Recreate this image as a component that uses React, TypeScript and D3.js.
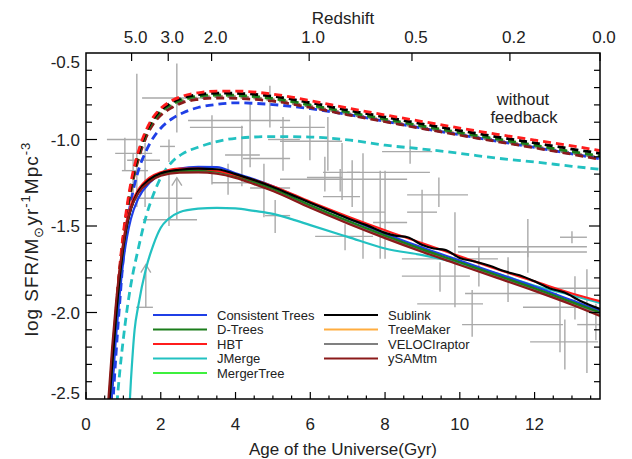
import React from "react";
import * as d3 from "d3";

const W = 632;
const H = 459;
const PL = 86, PR = 600, PT = 53, PB = 399;

// ---------- axis data ----------
const xMajorTicks = [0, 2, 4, 6, 8, 10, 12];
const xMinorTicks = [0.5, 1, 1.5, 2.5, 3, 3.5, 4.5, 5, 5.5, 6.5, 7, 7.5, 8.5, 9, 9.5, 10.5, 11, 11.5, 12.5, 13, 13.5];
const yLabelTicks = [-0.5, -1.0, -1.5, -2.0, -2.5];
const yMinorTicks = [-0.6, -0.7, -0.8, -0.9, -1.1, -1.2, -1.3, -1.4, -1.6, -1.7, -1.8, -1.9, -2.1, -2.2, -2.3, -2.4];
const yMajorTicks = [-1.0, -1.5, -2.0];
const redshiftLabels = ["5.0", "3.0", "2.0", "1.0", "0.5", "0.2", "0.0"];
const redshiftAges = [1.22, 2.2, 3.36, 5.97, 8.72, 11.34, 13.75];

// ---------- model curves ----------
const solidAges = [0.6, 0.7, 0.8, 0.9, 1.0, 1.1, 1.2, 1.4, 1.7, 2.0, 2.5, 3.0, 3.5, 4.0, 4.5, 5.0, 6.0, 7.0, 8.0, 9.0, 10.0, 11.0, 12.0, 13.0, 13.75];
const blueSolid = [-2.75, -2.45, -2.15, -1.9, -1.7, -1.56, -1.46, -1.34, -1.25, -1.2, -1.168, -1.158, -1.16, -1.195, -1.23, -1.27, -1.365, -1.455, -1.545, -1.625, -1.70, -1.775, -1.85, -1.93, -1.99];
const redSolid = [-2.55, -2.25, -1.98, -1.76, -1.59, -1.46, -1.38, -1.29, -1.22, -1.19, -1.168, -1.168, -1.18, -1.205, -1.235, -1.27, -1.36, -1.445, -1.525, -1.60, -1.675, -1.75, -1.82, -1.89, -1.935];
const greenSolid = [-2.6, -2.3, -2.03, -1.8, -1.62, -1.49, -1.40, -1.305, -1.235, -1.2, -1.182, -1.178, -1.185, -1.21, -1.245, -1.285, -1.38, -1.47, -1.555, -1.635, -1.71, -1.785, -1.86, -1.94, -2.0];
const brownSolid = [-2.5, -2.2, -1.95, -1.75, -1.6, -1.48, -1.40, -1.31, -1.245, -1.21, -1.192, -1.19, -1.198, -1.222, -1.258, -1.298, -1.395, -1.485, -1.57, -1.65, -1.725, -1.80, -1.875, -1.955, -2.02];
const limeSolid = [-2.6, -2.3, -2.03, -1.8, -1.62, -1.49, -1.40, -1.305, -1.238, -1.203, -1.185, -1.182, -1.19, -1.215, -1.25, -1.29, -1.385, -1.475, -1.56, -1.64, -1.715, -1.79, -1.865, -1.945, -2.005];
const orangeSolid = [-2.55, -2.25, -1.99, -1.77, -1.61, -1.485, -1.40, -1.308, -1.24, -1.205, -1.188, -1.186, -1.194, -1.218, -1.254, -1.294, -1.39, -1.48, -1.565, -1.645, -1.72, -1.795, -1.87, -1.95, -2.012];
const greySolid = [-2.58, -2.28, -2.0, -1.78, -1.615, -1.488, -1.40, -1.306, -1.238, -1.204, -1.186, -1.183, -1.191, -1.216, -1.252, -1.292, -1.388, -1.478, -1.562, -1.642, -1.718, -1.792, -1.868, -1.948, -2.008];
const blackAges = [0.6, 0.7, 0.8, 0.9, 1.0, 1.1, 1.2, 1.4, 1.7, 2.0, 2.5, 3.0, 3.5, 4.0, 4.5, 5.0, 5.5, 6.0, 6.5, 7.0, 7.5, 8.0, 8.3, 8.6, 9.0, 9.3, 9.6, 10.0, 10.4, 10.8, 11.2, 11.6, 12.0, 12.4, 12.8, 13.2, 13.75];
const blackSolid = [-2.6, -2.3, -2.03, -1.8, -1.62, -1.49, -1.40, -1.30, -1.23, -1.195, -1.175, -1.168, -1.172, -1.2, -1.235, -1.275, -1.32, -1.365, -1.41, -1.455, -1.495, -1.54, -1.557, -1.565, -1.61, -1.63, -1.638, -1.685, -1.705, -1.73, -1.762, -1.785, -1.82, -1.86, -1.885, -1.93, -1.98];
const cyanAges = [1.1, 1.2, 1.3, 1.4, 1.6, 1.8, 2.0, 2.2, 2.5, 3.0, 3.5, 4.0, 4.5, 5.0, 5.5, 6.0, 7.0, 8.0, 9.0, 10.0, 11.0, 12.0, 13.0, 13.75];
const cyanSolid = [-2.8, -2.4, -2.1, -1.96, -1.75, -1.61, -1.51, -1.46, -1.42, -1.40, -1.395, -1.398, -1.413, -1.43, -1.46, -1.495, -1.563, -1.63, -1.668, -1.715, -1.775, -1.845, -1.9, -1.945];

const dashAges = [0.6, 0.7, 0.8, 0.9, 1.0, 1.1, 1.2, 1.4, 1.6, 1.8, 2.0, 2.3, 2.6, 3.0, 3.5, 4.0, 5.0, 6.0, 7.0, 8.0, 9.0, 10.0, 11.0, 12.0, 13.0, 13.75];
const redDash = [-2.8, -2.35, -2.0, -1.74, -1.54, -1.38, -1.25, -1.07, -0.95, -0.87, -0.82, -0.775, -0.748, -0.73, -0.72, -0.72, -0.738, -0.775, -0.818, -0.858, -0.896, -0.934, -0.97, -1.003, -1.037, -1.064];
const blackDash = [-2.8, -2.37, -2.02, -1.76, -1.56, -1.40, -1.27, -1.085, -0.96, -0.88, -0.83, -0.785, -0.758, -0.74, -0.732, -0.733, -0.75, -0.787, -0.83, -0.87, -0.91, -0.948, -0.985, -1.02, -1.055, -1.08];
const greenDash = [-2.8, -2.38, -2.03, -1.77, -1.57, -1.41, -1.28, -1.095, -0.97, -0.89, -0.84, -0.795, -0.768, -0.75, -0.742, -0.744, -0.762, -0.8, -0.842, -0.882, -0.922, -0.96, -0.997, -1.033, -1.07, -1.095];
const brownDash = [-2.8, -2.4, -2.05, -1.79, -1.59, -1.43, -1.30, -1.115, -0.99, -0.91, -0.86, -0.815, -0.785, -0.768, -0.76, -0.762, -0.778, -0.815, -0.857, -0.897, -0.937, -0.975, -1.012, -1.048, -1.085, -1.115];
const limeDash = [-2.8, -2.38, -2.03, -1.77, -1.57, -1.41, -1.28, -1.095, -0.97, -0.89, -0.84, -0.797, -0.77, -0.752, -0.745, -0.747, -0.765, -0.803, -0.845, -0.885, -0.925, -0.963, -1.0, -1.036, -1.073, -1.098];
const orangeDash = [-2.8, -2.39, -2.04, -1.78, -1.58, -1.42, -1.29, -1.105, -0.98, -0.9, -0.85, -0.805, -0.777, -0.759, -0.751, -0.753, -0.77, -0.808, -0.85, -0.89, -0.93, -0.968, -1.005, -1.041, -1.078, -1.105];
const greyDash = [-2.8, -2.39, -2.04, -1.78, -1.58, -1.42, -1.29, -1.105, -0.98, -0.9, -0.85, -0.806, -0.778, -0.76, -0.752, -0.754, -0.771, -0.809, -0.851, -0.891, -0.931, -0.969, -1.006, -1.042, -1.079, -1.106];
const blueDash = [-3.0, -2.6, -2.25, -1.95, -1.68, -1.49, -1.36, -1.18, -1.07, -0.99, -0.935, -0.88, -0.845, -0.815, -0.797, -0.788, -0.798, -0.822, -0.855, -0.895, -0.935, -0.973, -1.01, -1.046, -1.083, -1.112];
const cyanDash = [-3.2, -2.9, -2.6, -2.35, -2.15, -1.98, -1.84, -1.63, -1.45, -1.32, -1.22, -1.13, -1.08, -1.045, -1.012, -0.993, -0.983, -0.986, -1.002, -1.033, -1.055, -1.08, -1.108, -1.13, -1.155, -1.172];

const seriesNames = ["Consistent Trees", "D-Trees", "HBT", "JMerge", "MergerTree", "Sublink", "TreeMaker", "VELOCIraptor", "ySAMtm"];
const seriesColors = ["#1f3fe6", "#1b7d1b", "#ff1c1c", "#22c1c1", "#3ef03e", "#000000", "#ffad40", "#808080", "#8b1a1a"];

// ---------- observations: [age, ageLo, ageHi, sfr, sfrLo, sfrHi] ----------
const obsPoints: number[][] = [
  [2.43, 1.50, 3.18, -0.76, -0.96, -0.56],
  [1.36, 0.56, 1.63, -1.00, -1.39, -0.62],
  [1.04, 0.78, 1.77, -1.08, -1.18, -0.99],
  [1.26, 0.96, 1.66, -1.18, -1.31, -1.08],
  [1.58, 1.10, 1.98, -1.12, -1.39, -1.02],
  [2.22, 1.98, 2.38, -1.04, -1.13, -1.00],
  [2.22, 1.10, 2.84, -1.34, -1.50, -1.18],
  [3.37, 2.78, 4.20, -0.93, -1.26, -0.86],
  [4.92, 2.73, 5.46, -0.89, -0.93, -0.69],
  [3.80, 3.37, 4.39, -1.25, -1.32, -1.14],
  [4.17, 3.72, 4.65, -1.09, -1.27, -0.92],
  [4.39, 4.20, 5.46, -1.11, -1.16, -0.79],
  [4.76, 4.39, 5.46, -1.28, -1.45, -1.14],
  [5.06, 4.79, 5.46, -1.44, -1.54, -1.35],
  [5.27, 4.87, 5.72, -1.00, -1.18, -0.87],
  [6.47, 5.19, 6.85, -1.01, -1.18, -0.87],
  [5.99, 5.19, 6.39, -0.93, -1.12, -0.86],
  [6.39, 5.91, 6.85, -1.22, -1.30, -1.10],
  [6.85, 6.34, 7.33, -1.19, -1.35, -1.02],
  [7.12, 6.34, 7.33, -1.33, -1.39, -1.12],
  [7.41, 6.98, 9.20, -1.19, -1.69, -1.08],
  [7.87, 7.06, 8.00, -1.42, -1.69, -1.18],
  [8.00, 7.68, 8.59, -1.48, -1.69, -1.18],
  [8.67, 7.92, 9.26, -1.07, -1.14, -1.00],
  [8.99, 8.59, 9.39, -1.42, -1.62, -1.29],
  [9.44, 8.59, 10.22, -1.32, -1.39, -1.22],
  [9.87, 8.45, 11.02, -1.69, -1.97, -1.42],
  [9.47, 8.45, 10.27, -1.79, -1.88, -1.71],
  [10.33, 8.86, 10.62, -1.95, -2.14, -1.87],
  [10.51, 9.95, 11.61, -1.65, -1.85, -1.62],
  [11.29, 10.14, 12.60, -1.89, -1.94, -1.68],
  [11.82, 9.95, 13.40, -1.62, -1.77, -1.46],
  [12.68, 10.06, 12.76, -2.07, -2.23, -1.91],
  [12.81, 11.88, 13.70, -2.17, -2.33, -2.04],
  [13.40, 11.69, 13.67, -1.97, -2.35, -1.75],
  [13.08, 12.44, 13.75, -1.86, -2.04, -1.79],
  [13.64, 13.14, 13.75, -2.07, -2.16, -1.95],
  [6.93, 6.13, 7.68, -1.56, -1.64, -1.49],
  [6.80, 5.19, 8.59, -1.23, -1.30, -1.17],
  [11.82, 10.0, 13.40, -1.65, -1.68, -1.62],
  [13.0, 12.68, 13.40, -1.565, -1.60, -1.53],
];
// lower limits: [age, ageLo, ageHi, sfr, arrowTip]
const lowerLimits: number[][] = [
  [2.43, 1.52, 2.97, -1.464, -1.221],
  [1.60, 1.34, 1.79, -1.97, -1.723],
];

const FONT = "'Liberation Sans', Arial, Helvetica, sans-serif";
const TXT = "#222";

export default function App() {
  const x = d3.scaleLinear().domain([0, 13.75]).range([PL, PR]);
  const y = d3.scaleLinear().domain([-2.5, -0.5]).range([PB, PT]);

  const mk = (ages: number[], vals: number[]) =>
    d3.line<number>().x((_, i) => x(ages[i])).y((v) => y(v)).curve(d3.curveMonotoneX)(vals) || "";

  const solid: [number[], number[], number][] = [
    [solidAges, limeSolid, 4],
    [solidAges, orangeSolid, 6],
    [solidAges, greySolid, 7],
    [cyanAges, cyanSolid, 3],
    [solidAges, blueSolid, 0],
    [solidAges, greenSolid, 1],
    [solidAges, redSolid, 2],
    [blackAges, blackSolid, 5],
    [solidAges, brownSolid, 8],
  ];
  const dashed: [number[], number[], number][] = [
    [dashAges, cyanDash, 3],
    [dashAges, limeDash, 4],
    [dashAges, orangeDash, 6],
    [dashAges, greyDash, 7],
    [dashAges, blueDash, 0],
    [dashAges, brownDash, 8],
    [dashAges, greenDash, 1],
    [dashAges, blackDash, 5],
    [dashAges, redDash, 2],
  ];

  const obsColor = "#a9a9a9";
  const legendRows = [0, 1, 2, 3, 4];

  return (
    <svg width={W} height={H} style={{ display: "block", position: "absolute", left: 0, top: 0, background: "#fff" }}>
      <defs>
        <clipPath id="plotclip">
          <rect x={PL} y={PT} width={PR - PL} height={PB - PT} />
        </clipPath>
      </defs>
      <rect x={0} y={0} width={W} height={H} fill="#fff" />

      {/* observations */}
      <g clipPath="url(#plotclip)" stroke={obsColor} strokeWidth={1.4} fill="none">
        {obsPoints.map((p, i) => (
          <g key={i}>
            <line x1={x(p[1])} x2={x(p[2])} y1={y(p[3])} y2={y(p[3])} />
            <line x1={x(p[0])} x2={x(p[0])} y1={y(p[4])} y2={y(p[5])} />
          </g>
        ))}
        {lowerLimits.map((p, i) => (
          <g key={"l" + i}>
            <line x1={x(p[1])} x2={x(p[2])} y1={y(p[3])} y2={y(p[3])} />
            <line x1={x(p[0])} x2={x(p[0])} y1={y(p[3])} y2={y(p[4])} />
            <path d={`M${x(p[0]) - 5},${y(p[4]) + 8}L${x(p[0])},${y(p[4])}L${x(p[0]) + 5},${y(p[4]) + 8}`} />
          </g>
        ))}
      </g>

      {/* model curves */}
      <g clipPath="url(#plotclip)" fill="none">
        {dashed.map(([a, v, c], i) => (
          <path key={"d" + i} d={mk(a, v)} stroke={seriesColors[c]} strokeWidth={2.8} strokeDasharray="8 5" />
        ))}
        {solid.map(([a, v, c], i) => (
          <path key={"s" + i} d={mk(a, v)} stroke={seriesColors[c]} strokeWidth={2.2} />
        ))}
      </g>

      {/* frame */}
      <rect x={PL} y={PT} width={PR - PL} height={PB - PT} fill="none" stroke="#000" strokeWidth={1.5} />

      {/* ticks */}
      <g stroke="#000" strokeWidth={1.2}>
        {xMajorTicks.map((t) => (
          <line key={"xm" + t} x1={x(t)} x2={x(t)} y1={PB} y2={PB - 7} />
        ))}
        {xMinorTicks.map((t) => (
          <line key={"xn" + t} x1={x(t)} x2={x(t)} y1={PB} y2={PB - 3.5} />
        ))}
        {redshiftAges.map((t, i) => (
          <line key={"zt" + i} x1={x(t)} x2={x(t)} y1={PT} y2={PT + 8} />
        ))}
        {yMajorTicks.map((t) => (
          <g key={"ym" + t}>
            <line x1={PL} x2={PL + 11} y1={y(t)} y2={y(t)} />
            <line x1={PR} x2={PR - 11} y1={y(t)} y2={y(t)} />
          </g>
        ))}
        {yMinorTicks.map((t) => (
          <g key={"yn" + t}>
            <line x1={PL} x2={PL + 6} y1={y(t)} y2={y(t)} />
            <line x1={PR} x2={PR - 6} y1={y(t)} y2={y(t)} />
          </g>
        ))}
      </g>

      <g fontFamily={FONT} fontSize={17} fill={TXT}>
        {xMajorTicks.map((t) => (
          <text key={"xl" + t} x={x(t)} y={430} textAnchor="middle">
            {t}
          </text>
        ))}
        {yLabelTicks.map((t, i) => (
          <text key={"yl" + t} x={80} y={y(t) + (i === 0 ? 15 : i === 4 ? 0 : 6)} textAnchor="end">
            {t.toFixed(1)}
          </text>
        ))}
        {redshiftLabels.map((s, i) => (
          <text key={"zl" + i} x={x(redshiftAges[i]) + 4} y={43} textAnchor="middle">
            {s}
          </text>
        ))}
        <text x={(PL + PR) / 2} y={455} textAnchor="middle">
          Age of the Universe(Gyr)
        </text>
        <text x={(PL + PR) / 2} y={24} textAnchor="middle">
          Redshift
        </text>
        <text transform={`translate(38,239) rotate(-90)`} textAnchor="middle" fontSize={19} letterSpacing={1}>
          <tspan>log SFR/M</tspan>
          <tspan fontSize={13} dy={5}>⊙</tspan>
          <tspan dy={-5}>yr</tspan>
          <tspan fontSize={13} dy={-8}>-1</tspan>
          <tspan dy={8}>Mpc</tspan>
          <tspan fontSize={13} dy={-8}>-3</tspan>
        </text>
        <text x={523} y={105} textAnchor="middle" fontSize={16.5}>without</text>
        <text x={524} y={123} textAnchor="middle" fontSize={16.5}>feedback</text>
      </g>

      {/* legend */}
      <g fontFamily={FONT} fontSize={13} fill={TXT}>
        {seriesNames.map((n, i) => {
          const col = i < 5 ? 0 : 1;
          const row = legendRows[i < 5 ? i : i - 5];
          const lx = col === 0 ? 153 : 324;
          const ly = 315 + row * 14.5;
          return (
            <g key={n}>
              <line x1={lx} x2={lx + 54} y1={ly} y2={ly} stroke={seriesColors[i]} strokeWidth={2} />
              <text x={lx + 64} y={ly + 4.5}>{n}</text>
            </g>
          );
        })}
      </g>
    </svg>
  );
}
